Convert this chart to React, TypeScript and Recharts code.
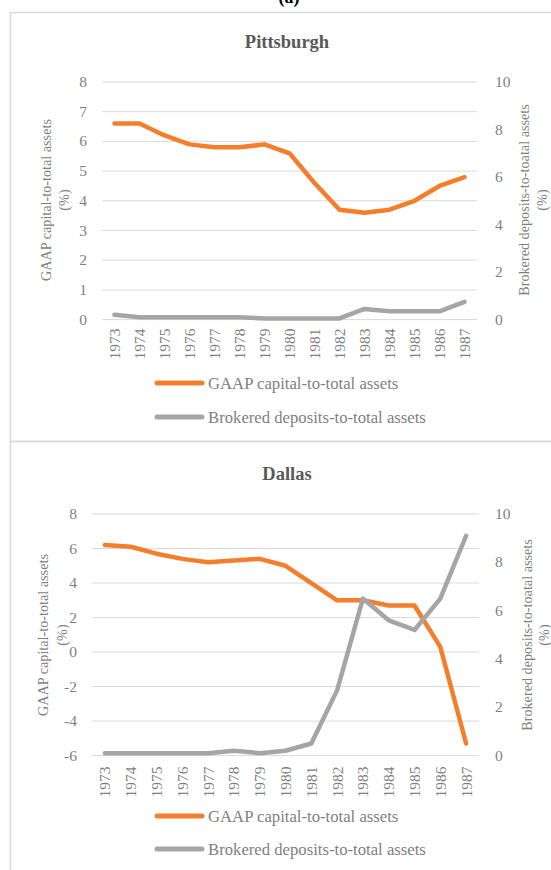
import React from 'react';
import { LineChart, Line, XAxis, YAxis, CartesianGrid } from 'recharts';

const years = ['1973', '1974', '1975', '1976', '1977', '1978', '1979', '1980', '1981', '1982', '1983', '1984', '1985', '1986', '1987'];

const pittGaap = [6.6, 6.6, 6.2, 5.9, 5.8, 5.8, 5.9, 5.6, 4.6, 3.7, 3.6, 3.7, 4.0, 4.5, 4.8];
const pittBrokered = [0.2, 0.1, 0.1, 0.1, 0.1, 0.1, 0.05, 0.05, 0.05, 0.05, 0.45, 0.35, 0.35, 0.35, 0.75];

const dallasGaap = [6.2, 6.1, 5.7, 5.4, 5.2, 5.3, 5.4, 5.0, 4.0, 3.0, 3.0, 2.7, 2.7, 0.3, -5.3];
const dallasBrokered = [0.1, 0.1, 0.1, 0.1, 0.1, 0.2, 0.1, 0.2, 0.5, 2.7, 6.5, 5.6, 5.2, 6.5, 9.1];

const pittLeftTicks = [0, 1, 2, 3, 4, 5, 6, 7, 8];
const dallasLeftTicks = [-6, -4, -2, 0, 2, 4, 6, 8];
const rightTicks = [0, 2, 4, 6, 8, 10];

const gaapName = 'GAAP capital-to-total assets';
const brokeredName = 'Brokered deposits-to-total assets';

const ORANGE = '#F57E2C';
const GRAY = '#A5A5A5';
const TEXT = '#7f7f7f';
const GRID = '#d9d9d9';
const FONT = '"Liberation Serif", "Times New Roman", serif';

const build = (gaap: number[], brokered: number[]) =>
  years.map((y, i) => ({ year: y, gaap: gaap[i], brokered: brokered[i] }));

const YearTick = (props: any) => {
  const { x, y, payload } = props;
  return (
    <text
      x={x}
      y={y}
      dy={5.5}
      transform={`rotate(-90, ${x}, ${y})`}
      textAnchor="end"
      fill={TEXT}
      fontSize={15.5}
      fontFamily={FONT}
    >
      {payload.value}
    </text>
  );
};

const ValueTick = (props: any) => {
  const { x, y, payload, textAnchor } = props;
  return (
    <text x={x} y={y} dy={5} textAnchor={textAnchor} fill={TEXT} fontSize={15.5} fontFamily={FONT}>
      {payload.value}
    </text>
  );
};

type PanelProps = {
  top: number;
  height: number;
  gaap: number[];
  brokered: number[];
  leftDomain: [number, number];
  leftTicks: number[];
  margin: { top: number; bottom: number };
  leftWidth: number;
  rightWidth: number;
  pad: number;
  leftTickMargin: number;
  rightTickMargin: number;
  xTickMargin: number;
};

function Panel(p: PanelProps) {
  const data = build(p.gaap, p.brokered);
  return (
    <div style={{ position: 'absolute', left: 0, top: p.top }}>
      <LineChart
        width={551}
        height={p.height}
        data={data}
        margin={{ top: p.margin.top, bottom: p.margin.bottom, left: 0, right: 0 }}
      >
        <CartesianGrid vertical={false} stroke={GRID} strokeWidth={1} yAxisId="left" />
        <XAxis
          dataKey="year"
          height={40}
          axisLine={false}
          tickLine={false}
          interval={0}
          padding={{ left: p.pad, right: p.pad }}
          tickMargin={p.xTickMargin}
          tick={<YearTick />}
        />
        <YAxis
          yAxisId="left"
          orientation="left"
          width={p.leftWidth}
          domain={p.leftDomain}
          ticks={p.leftTicks}
          axisLine={false}
          tickLine={false}
          tickMargin={p.leftTickMargin}
          tick={<ValueTick />}
        />
        <YAxis
          yAxisId="right"
          orientation="right"
          width={p.rightWidth}
          domain={[0, 10]}
          ticks={rightTicks}
          axisLine={false}
          tickLine={false}
          tickMargin={p.rightTickMargin}
          tick={<ValueTick />}
        />
        <Line
          yAxisId="left"
          dataKey="gaap"
          type="linear"
          stroke={ORANGE}
          strokeWidth={4.5}
          strokeLinejoin="round"
          strokeLinecap="round"
          dot={false}
          isAnimationActive={false}
        />
        <Line
          yAxisId="right"
          dataKey="brokered"
          type="linear"
          stroke={GRAY}
          strokeWidth={4.5}
          strokeLinejoin="round"
          strokeLinecap="round"
          dot={false}
          isAnimationActive={false}
        />
      </LineChart>
    </div>
  );
}

const AxisTitle = ({ x, y, lines }: { x: number[]; y: number; lines: string[] }) => (
  <>
    {lines.map((l, i) => (
      <text
        key={i}
        x={x[i]}
        y={y}
        transform={`rotate(-90, ${x[i]}, ${y})`}
        textAnchor="middle"
        dominantBaseline="central"
        fill={TEXT}
        fontSize={14.2}
        fontFamily={FONT}
      >
        {l}
      </text>
    ))}
  </>
);

const LegendRows = ({ y }: { y: number[] }) => (
  <>
    {[
      { name: gaapName, color: ORANGE },
      { name: brokeredName, color: GRAY },
    ].map((r, i) => (
      <g key={i}>
        <line x1={157} x2={202} y1={y[i]} y2={y[i]} stroke={r.color} strokeWidth={5} strokeLinecap="round" />
        <text x={208} y={y[i]} dominantBaseline="central" fill={TEXT} fontSize={16.7} fontFamily={FONT}>
          {r.name}
        </text>
      </g>
    ))}
  </>
);

export default function App() {
  return (
    <div
      style={{
        position: 'absolute',
        left: 0,
        top: 0,
        width: 551,
        height: 870,
        background: '#fff',
        overflow: 'hidden',
        fontFamily: FONT,
      }}
    >
      <svg width={551} height={870} style={{ position: 'absolute', left: 0, top: 0 }}>
        <text x={289} y={3} textAnchor="middle" fontSize={18} fontWeight="bold" fontFamily={FONT} fill="#000">
          (a)
        </text>
        <rect x={10.5} y={12.5} width={600} height={429} fill="none" stroke={GRID} strokeWidth={1.5} />
        <rect x={10.5} y={441.5} width={600} height={500} fill="none" stroke={GRID} strokeWidth={1.5} />
        <text x={287} y={42} textAnchor="middle" dominantBaseline="central" fontSize={18.5} fontWeight="bold" fontFamily={FONT} fill="#595959">
          Pittsburgh
        </text>
        <text x={287} y={474} textAnchor="middle" dominantBaseline="central" fontSize={18.5} fontWeight="bold" fontFamily={FONT} fill="#595959">
          Dallas
        </text>
        <AxisTitle x={[46, 64]} y={200} lines={['GAAP capital-to-total assets', '(%)']} />
        <AxisTitle x={[524, 542]} y={200} lines={['Brokered deposits-to-toatal assets', '(%)']} />
        <AxisTitle x={[43, 62]} y={635} lines={['GAAP capital-to-total assets', '(%)']} />
        <AxisTitle x={[527, 544]} y={635} lines={['Brokered deposits-to-toatal assets', '(%)']} />
        <LegendRows y={[383, 417]} />
        <LegendRows y={[816, 849]} />
      </svg>
      <Panel
        top={0}
        height={440}
        gaap={pittGaap}
        brokered={pittBrokered}
        leftDomain={[0, 8]}
        leftTicks={pittLeftTicks}
        margin={{ top: 82, bottom: 80.4 }}
        leftWidth={102}
        rightWidth={74}
        pad={12.5}
        leftTickMargin={9}
        rightTickMargin={12}
        xTickMargin={3}
      />
      <Panel
        top={442}
        height={428}
        gaap={dallasGaap}
        brokered={dallasBrokered}
        leftDomain={[-6, 8]}
        leftTicks={dallasLeftTicks}
        margin={{ top: 72, bottom: 74.4 }}
        leftWidth={92}
        rightWidth={72}
        pad={12.9}
        leftTickMargin={9}
        rightTickMargin={10}
        xTickMargin={5}
      />
    </div>
  );
}
